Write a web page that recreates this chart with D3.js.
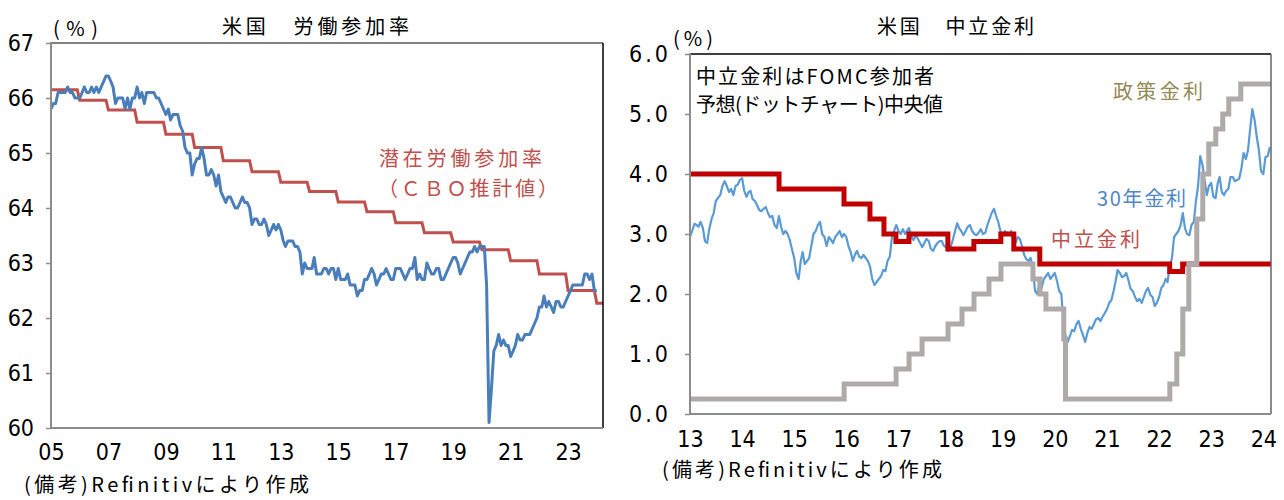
<!DOCTYPE html>
<html>
<head>
<meta charset="utf-8">
<script src="https://cdn.jsdelivr.net/npm/d3@7"></script>
<style>
  body { margin: 0; background: #fff; }
  svg { display: block; }
</style>
</head>
<body>
<svg id="chart" width="1284" height="500"></svg>
<script>
// US labour force participation rate, monthly from Jan 2005 (%)
const lfpr = [
  65.8, 65.9, 65.9, 66.1, 66.1, 66.1, 66.1, 66.2, 66.1, 66.1, 66.0, 66.0, // 2005
  66.0, 66.1, 66.2, 66.1, 66.1, 66.2, 66.1, 66.2, 66.1, 66.2, 66.3, 66.4, // 2006
  66.4, 66.3, 66.2, 65.9, 66.0, 66.0, 66.0, 65.8, 66.0, 65.8, 66.0, 66.0, // 2007
  66.2, 66.0, 66.1, 65.9, 66.1, 66.1, 66.1, 66.1, 66.0, 66.0, 65.9, 65.8, // 2008
  65.7, 65.8, 65.6, 65.7, 65.7, 65.7, 65.5, 65.4, 65.1, 65.0, 65.0, 64.6, // 2009
  64.8, 64.9, 64.9, 65.1, 64.9, 64.6, 64.6, 64.7, 64.6, 64.4, 64.6, 64.3, // 2010
  64.2, 64.1, 64.2, 64.2, 64.1, 64.0, 64.0, 64.1, 64.2, 64.1, 64.1, 64.0, // 2011
  63.7, 63.8, 63.8, 63.7, 63.7, 63.8, 63.7, 63.5, 63.6, 63.7, 63.6, 63.7, // 2012
  63.6, 63.4, 63.3, 63.4, 63.4, 63.4, 63.3, 63.3, 63.2, 62.8, 63.0, 62.9, // 2013
  62.9, 62.9, 63.1, 62.8, 62.8, 62.8, 62.9, 62.9, 62.8, 62.9, 62.9, 62.7, // 2014
  62.9, 62.7, 62.7, 62.7, 62.8, 62.6, 62.6, 62.6, 62.4, 62.5, 62.5, 62.7, // 2015
  62.7, 62.8, 62.9, 62.8, 62.6, 62.7, 62.8, 62.8, 62.9, 62.8, 62.7, 62.7, // 2016
  62.9, 62.9, 62.9, 62.8, 62.7, 62.8, 62.9, 62.9, 63.1, 62.7, 62.8, 62.7, // 2017
  62.7, 63.0, 62.9, 62.8, 62.8, 62.9, 62.9, 62.7, 62.7, 62.8, 62.9, 63.0, // 2018
  63.1, 63.1, 63.0, 62.8, 62.9, 63.0, 63.1, 63.2, 63.2, 63.3, 63.2, 63.3, // 2019
  63.3, 63.3, 62.6, 60.1, 60.7, 61.4, 61.5, 61.7, 61.5, 61.6, 61.5, 61.5, // 2020
  61.3, 61.4, 61.5, 61.7, 61.6, 61.6, 61.7, 61.7, 61.7, 61.8, 61.9, 62.0, // 2021
  62.2, 62.2, 62.4, 62.2, 62.3, 62.2, 62.1, 62.3, 62.3, 62.2, 62.2, 62.3, // 2022
  62.4, 62.5, 62.6, 62.6, 62.6, 62.6, 62.6, 62.8, 62.8, 62.7, 62.8, 62.5, // 2023
  62.5                                                                    // 2024
];

// CBO potential participation rate, one value per year 2005-2024 (%)
const cboYears = d3.range(2005, 2025);
const cboPotential = [
  66.15, 65.96, 65.78, 65.56, 65.34, 65.10, 64.86, 64.66, 64.47, 64.30,
  64.11, 63.93, 63.73, 63.55, 63.38, 63.24, 63.04, 62.80, 62.50, 62.27
];

// 30-year Treasury yield, twice a month (1st, 16th) from Jan 2013 (%)
const yield30 = [
  2.95, 3.05, 3.17, 3.15, 3.12, 3.20, 3.10, 2.88, 2.85, 3.08, 3.25, 3.35, 3.55, 3.60, 3.65, 3.80, 3.88, 3.80, 3.70, 3.75, 3.65, 3.80, 3.82, 3.90, // 2013
  3.93, 3.72, 3.62, 3.70, 3.72, 3.58, 3.55, 3.48, 3.40, 3.38, 3.42, 3.45, 3.35, 3.28, 3.30, 3.15, 3.10, 3.30, 3.12, 3.00, 3.05, 3.00, 2.90, 2.75, // 2014
  2.60, 2.35, 2.25, 2.55, 2.70, 2.50, 2.55, 2.60, 2.80, 3.00, 3.05, 3.15, 3.20, 3.00, 2.95, 2.80, 2.95, 2.90, 2.85, 2.95, 3.00, 3.05, 2.95, 3.00, // 2015
  2.95, 2.80, 2.70, 2.55, 2.65, 2.72, 2.62, 2.60, 2.65, 2.60, 2.55, 2.45, 2.25, 2.15, 2.20, 2.25, 2.30, 2.40, 2.38, 2.55, 2.62, 2.95, 3.05, 3.15, // 2016
  3.05, 3.00, 3.08, 3.00, 3.05, 3.10, 2.95, 2.90, 2.98, 2.92, 2.85, 2.78, 2.85, 2.92, 2.88, 2.75, 2.72, 2.80, 2.85, 2.88, 2.88, 2.80, 2.78, 2.72, // 2017
  2.78, 2.90, 3.05, 3.18, 3.10, 3.05, 2.98, 3.05, 3.12, 3.15, 3.05, 3.00, 2.98, 3.02, 3.08, 3.00, 3.02, 3.15, 3.25, 3.35, 3.42, 3.30, 3.20, 3.05, // 2018
  2.98, 3.05, 3.02, 3.00, 3.05, 2.90, 2.85, 2.95, 2.92, 2.80, 2.65, 2.58, 2.55, 2.60, 2.40, 2.05, 2.00, 2.20, 2.10, 2.25, 2.30, 2.35, 2.25, 2.30, // 2019
  2.35, 2.22, 2.05, 2.00, 1.55, 1.30, 1.20, 1.30, 1.40, 1.38, 1.50, 1.55, 1.42, 1.32, 1.20, 1.35, 1.45, 1.42, 1.50, 1.58, 1.60, 1.55, 1.62, 1.68, // 2020
  1.75, 1.85, 1.90, 2.05, 2.20, 2.40, 2.35, 2.28, 2.30, 2.35, 2.22, 2.08, 2.05, 1.95, 1.88, 1.92, 1.85, 1.95, 2.05, 2.10, 1.98, 1.95, 1.80, 1.85, // 2021
  1.95, 2.10, 2.15, 2.25, 2.20, 2.45, 2.60, 2.95, 3.00, 3.05, 3.15, 3.35, 3.10, 3.00, 2.98, 3.15, 3.20, 3.55, 3.80, 4.30, 4.15, 3.90, 3.65, 3.80, // 2022
  3.85, 3.62, 3.60, 3.85, 3.95, 3.70, 3.65, 3.72, 3.75, 3.95, 3.95, 3.88, 3.90, 3.92, 4.10, 4.35, 4.25, 4.40, 4.75, 5.08, 4.90, 4.62, 4.40, 4.05, // 2023
  4.00, 4.28, 4.30, 4.45                                                                                                                           // 2024
];

// FOMC longer-run (neutral) rate median, value from each change date (%)
const neutralDates = ["2013-01-01", "2014-09-17", "2015-12-16", "2016-06-15", "2016-09-21", "2016-12-14",
  "2017-03-15", "2017-12-13", "2018-06-13", "2018-12-19", "2019-03-20", "2019-09-18",
  "2022-03-16", "2022-06-15", "2024-02-24"];
const neutralRate = [4.0, 3.75, 3.5, 3.25, 3.0, 2.875, 3.0, 2.75, 2.875, 3.0, 2.75, 2.5, 2.375, 2.5, 2.5];

// Fed funds target (upper bound), value from each change date (%)
const policyDates = ["2013-01-01", "2015-12-17", "2016-12-15", "2017-03-16", "2017-06-15", "2017-12-14",
  "2018-03-22", "2018-06-14", "2018-09-27", "2018-12-20", "2019-08-01", "2019-09-19", "2019-10-31",
  "2020-03-04", "2020-03-16", "2022-03-17", "2022-05-05", "2022-06-16", "2022-07-28", "2022-09-22",
  "2022-11-03", "2022-12-15", "2023-02-02", "2023-03-23", "2023-05-04", "2023-07-27", "2024-02-24"];
const policyRate = [0.25, 0.5, 0.75, 1.0, 1.25, 1.5, 1.75, 2.0, 2.25, 2.5, 2.25, 2.0, 1.75,
  1.25, 0.25, 0.5, 1.0, 1.75, 2.5, 3.25, 4.0, 4.5, 4.75, 5.0, 5.25, 5.5, 5.5];

const leftTicksY = d3.range(60, 68);
const leftTicksX = d3.range(2005, 2024, 2);
const rightTicksY = d3.range(0, 7);
const rightTicksX = d3.range(2013, 2025);

const parse = d3.timeParse("%Y-%m-%d");
const svg = d3.select("#chart");

const numFont = '"Liberation Sans Narrow", "DejaVu Sans Condensed", sans-serif';
const jpFont = '"Noto Sans CJK JP", sans-serif';

function frame(g, x0, x1, y0, y1, topColor, rightColor) {
  g.append("line").attr("x1", x0).attr("x2", x1).attr("y1", y0).attr("y2", y0)
    .attr("stroke", topColor).attr("stroke-width", 1.5);
  g.append("line").attr("x1", x1).attr("x2", x1).attr("y1", y0).attr("y2", y1)
    .attr("stroke", rightColor).attr("stroke-width", 1.5);
  g.append("line").attr("x1", x0).attr("x2", x1).attr("y1", y1).attr("y2", y1)
    .attr("stroke", "#8c8c8c").attr("stroke-width", 2);
  g.append("line").attr("x1", x0).attr("x2", x0).attr("y1", y0 - 1).attr("y2", y1 + 1)
    .attr("stroke", "#8c8c8c").attr("stroke-width", 2);
}

function styleAxis(g) {
  g.select(".domain").remove();
  g.selectAll(".tick line").attr("stroke", "#8c8c8c").attr("stroke-width", 1.5);
  g.selectAll(".tick text").attr("fill", "#000").style("font-family", numFont).style("font-size", "23px");
}

function label(text, x, y, color, len, size) {
  const t = svg.append("text")
    .attr("x", x).attr("y", y)
    .attr("fill", color)
    .style("font-family", jpFont)
    .style("font-size", (size || 20) + "px")
    .text(text);
  if (len) t.attr("textLength", len).attr("lengthAdjust", "spacing");
}

// ---------- left: participation rate ----------
const xL = d3.scaleTime().domain([new Date(2005, 0, 1), new Date(2024, 2, 20)]).range([51, 603]);
const yL = d3.scaleLinear().domain([60, 67]).range([428, 43]);

const gL = svg.append("g");

gL.append("g")
  .attr("transform", "translate(51,0)")
  .call(d3.axisLeft(yL).tickValues(leftTicksY).tickSize(5).tickPadding(12).tickFormat(d3.format("d")))
  .call(styleAxis);

gL.append("g")
  .attr("transform", "translate(0,428)")
  .call(d3.axisBottom(xL).tickValues(leftTicksX.map(y => new Date(y, 0, 1)))
    .tickSize(0).tickPadding(16).tickFormat(d3.timeFormat("%y")))
  .call(styleAxis);

const cboPoints = [];
cboYears.forEach((yr, i) => {
  cboPoints.push([new Date(yr, 0, 1), cboPotential[i]]);
  cboPoints.push([i === cboYears.length - 1 ? xL.domain()[1] : new Date(yr, 11, 1), cboPotential[i]]);
});

gL.append("path")
  .datum(cboPoints)
  .attr("fill", "none")
  .attr("stroke", "#c0504d")
  .attr("stroke-width", 3)
  .attr("d", d3.line().x(d => xL(d[0])).y(d => yL(d[1])));

gL.append("path")
  .datum(lfpr)
  .attr("fill", "none")
  .attr("stroke", "#4a7ebb")
  .attr("stroke-width", 3)
  .attr("stroke-linejoin", "round")
  .attr("d", d3.line().x((d, i) => xL(new Date(2005, i, 1))).y(d => yL(d)));

frame(gL, 51, 603, 43, 428, "#595959", "#000");

// ---------- right: neutral rate ----------
const xR = d3.scaleTime().domain([new Date(2013, 0, 1), new Date(2024, 1, 24)]).range([690, 1271]);
const yR = d3.scaleLinear().domain([0, 6]).range([414, 54]);

const gR = svg.append("g");

gR.append("g")
  .attr("transform", "translate(690,0)")
  .call(d3.axisLeft(yR).tickValues(rightTicksY).tickSize(5).tickPadding(14).tickFormat(d3.format(".1f")))
  .call(styleAxis)
  .call(g => g.selectAll(".tick text").style("letter-spacing", "3px"));

gR.append("g")
  .attr("transform", "translate(0,414)")
  .call(d3.axisBottom(xR).tickValues(rightTicksX.map(y => new Date(y, 0, 1)))
    .tickSize(0).tickPadding(17).tickFormat(d3.timeFormat("%y")))
  .call(styleAxis);

gR.append("path")
  .datum(yield30)
  .attr("fill", "none")
  .attr("stroke", "#5b9bd5")
  .attr("stroke-width", 2.2)
  .attr("stroke-linejoin", "round")
  .attr("d", d3.line().x((d, i) => xR(new Date(2013, Math.floor(i / 2), i % 2 ? 16 : 1))).y(d => yR(d)));

gR.append("path")
  .datum(neutralRate)
  .attr("fill", "none")
  .attr("stroke", "#c00000")
  .attr("stroke-width", 5)
  .attr("d", d3.line().curve(d3.curveStepAfter).x((d, i) => xR(parse(neutralDates[i]))).y(d => yR(d)));

gR.append("path")
  .datum(policyRate)
  .attr("fill", "none")
  .attr("stroke", "#aeaaaa")
  .attr("stroke-width", 5)
  .attr("d", d3.line().curve(d3.curveStepAfter).x((d, i) => xR(parse(policyDates[i]))).y(d => yR(d)));

frame(gR, 690, 1271, 54, 414, "#000", "#666");

// ---------- texts ----------
label("米国　労働参加率", 222, 34, "#000", 187);
label("(%)", 53, 36, "#000", 45);
label("潜在労働参加率", 379, 166, "#c0504d", 163);
label("（ＣＢＯ推計値）", 378, 196, "#c0504d", 180);
label("(備考)Refinitivにより作成", 24, 492, "#000", 285);

label("米国　中立金利", 877, 34, "#000", 157);
label("(%)", 673, 46, "#000", 40);
label("中立金利はFOMC参加者", 696, 84, "#000", 238);
label("予想(ドットチャート)中央値", 696, 112, "#000", 247);
label("政策金利", 1113, 99, "#948a54", 90);
label("30年金利", 1097, 206, "#4f86c6", 89);
label("中立金利", 1051, 247, "#c0504d", 89);
label("(備考)Refinitivにより作成", 662, 477, "#000", 280);
</script>
</body>
</html>
